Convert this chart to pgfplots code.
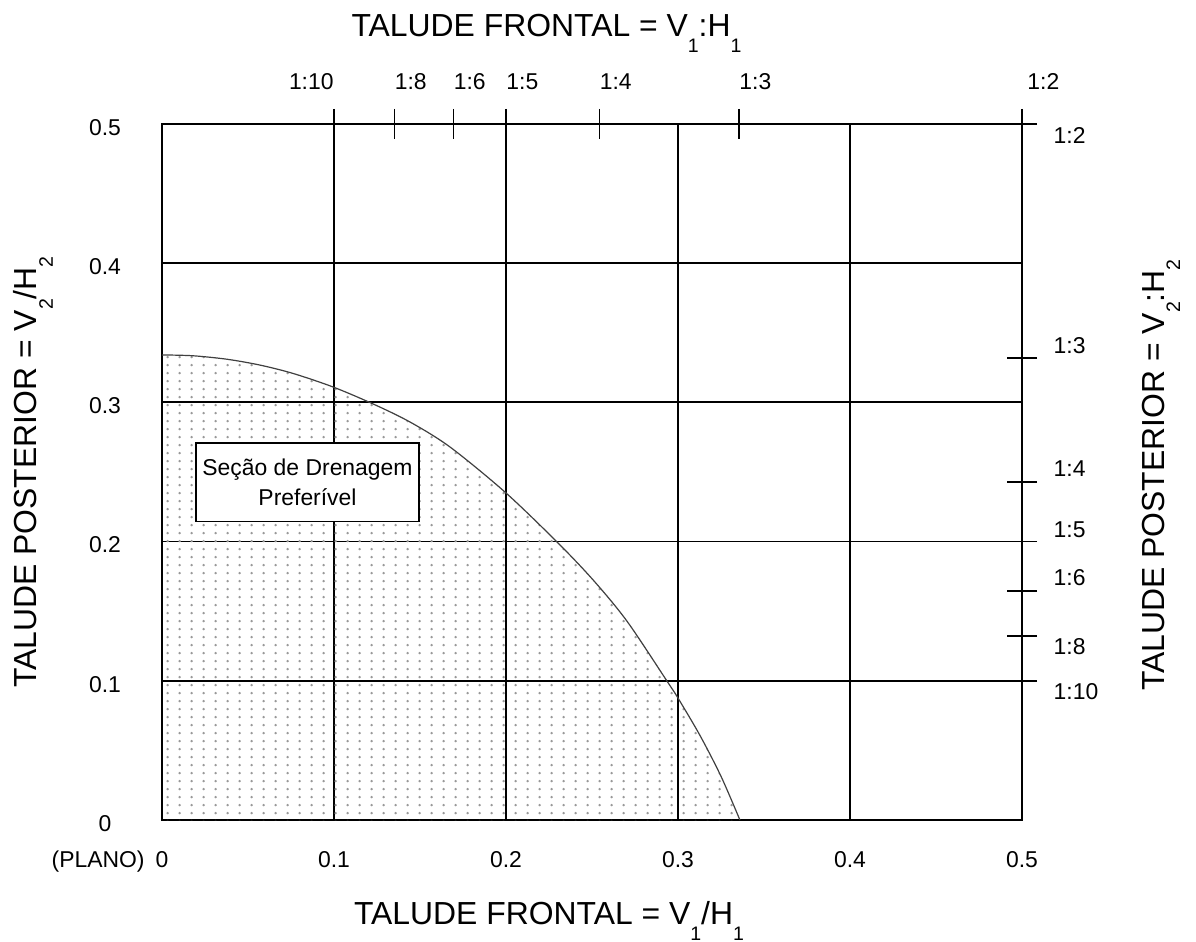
\documentclass[border=0pt]{standalone}
\usepackage{pgfplots}
\pgfplotsset{compat=1.18}
\usepackage{fontspec}
\setmainfont{Liberation Sans}
\usetikzlibrary{patterns}
\pgfdeclarepatternformonly{mydots}{\pgfqpoint{0bp}{0bp}}{\pgfqpoint{5.8bp}{4.2bp}}{\pgfqpoint{5.8bp}{4.2bp}}{\pgfpathcircle{\pgfqpoint{2.9bp}{2.1bp}}{0.7bp}\pgfusepath{fill}}
\newcommand\sub[1]{\raisebox{-8bp}{\fontsize{9.8}{10}\selectfont #1}}
\newcommand\lbl{\fontsize{11.5}{15}\selectfont}
\newcommand\ttl{\fontsize{16}{19}\selectfont}
\pgfplotstableread{
x y
0 0.3341
0.018 0.3335
0.0378 0.3310
0.057 0.3268
0.0762 0.3208
0.0994 0.3111
0.1227 0.2989
0.1442 0.2859
0.1674 0.2680
0.1994 0.2356
0.2297 0.1997
0.2506 0.1725
0.2703 0.1429
0.2936 0.0998
0.3000 0.0876
0.3128 0.0607
0.3250 0.0314
0.3360 0
}\curve
\begin{document}
\begin{tikzpicture}
\path (-81bp,-61bp) rectangle (517bp,410bp);
\begin{axis}[name=main, at={(0,0)}, anchor=south west, scale only axis,
  width=430bp, height=348bp, xmin=0, xmax=0.5, ymin=0, ymax=0.5,
  xtick={0,0.1,0.2,0.3,0.4,0.5}, ytick={0,0.1,0.2,0.3,0.4,0.5},
  xticklabels={0,0.1,0.2,0.3,0.4,0.5}, yticklabels={0,0.1,0.2,0.3,0.4,0.5},
  grid=major, grid style={black, line width=0.9bp},
  major tick length=0pt, axis line style={line width=0.9bp},
  tick label style={font=\lbl},
  /pgf/number format/assume math mode=true,
  xticklabel style={anchor=base, yshift=-23.5bp},
  yticklabel style={anchor=center, xshift=-28.5bp, yshift=-1.75bp},
  clip=false]
\addplot[draw=none, pattern=mydots, pattern color=black!40, smooth] table[x=x,y=y] {\curve} \closedcycle;
\addplot[black!75, line width=0.6bp, smooth] table[x=x,y=y] {\curve};
\node[draw, fill=white, line width=0.8bp, minimum width=111.5bp, minimum height=39.2bp,
  align=center, inner sep=0pt, font=\lbl] at (axis cs:0.0846,0.2425) {Seção de Drenagem\\Preferível};
% top labels
\node[anchor=base east, inner sep=0pt, font=\lbl, yshift=17.35bp] at (axis cs:0.1,0.5) {1:10};
\node[anchor=base west, inner sep=0pt, font=\lbl, yshift=17.35bp] at (axis cs:0.1351,0.5) {1:8};
\node[anchor=base west, inner sep=0pt, font=\lbl, yshift=17.35bp] at (axis cs:0.1694,0.5) {1:6};
\node[anchor=base west, inner sep=0pt, font=\lbl, yshift=17.35bp] at (axis cs:0.2,0.5) {1:5};
\node[anchor=base west, inner sep=0pt, font=\lbl, yshift=17.35bp] at (axis cs:0.2543,0.5) {1:4};
\node[anchor=base west, inner sep=0pt, font=\lbl, yshift=17.35bp] at (axis cs:0.3355,0.5) {1:3};
\node[anchor=base west, inner sep=0pt, font=\lbl, yshift=17.35bp, xshift=2.5bp] at (axis cs:0.5,0.5) {1:2};
% right labels
\node[anchor=west, inner sep=0pt, font=\lbl, xshift=15.65bp] at (axis cs:0.5,0.492) {1:2};
\node[anchor=west, inner sep=0pt, font=\lbl, xshift=15.65bp] at (axis cs:0.5,0.3405) {1:3};
\node[anchor=west, inner sep=0pt, font=\lbl, xshift=15.65bp] at (axis cs:0.5,0.2522) {1:4};
\node[anchor=west, inner sep=0pt, font=\lbl, xshift=15.65bp] at (axis cs:0.5,0.2088) {1:5};
\node[anchor=west, inner sep=0pt, font=\lbl, xshift=15.65bp] at (axis cs:0.5,0.1743) {1:6};
\node[anchor=west, inner sep=0pt, font=\lbl, xshift=15.65bp] at (axis cs:0.5,0.1245) {1:8};
\node[anchor=west, inner sep=0pt, font=\lbl, xshift=15.65bp] at (axis cs:0.5,0.0922) {1:10};
\node[anchor=base east, inner sep=0pt, font=\lbl, xshift=-8.5bp, yshift=-23.5bp] at (axis cs:0,0) {(PLANO)};
\end{axis}
\begin{axis}[at={(0,0)}, anchor=south west, scale only axis,
  width=430bp, height=348bp, xmin=0, xmax=0.5, ymin=0, ymax=0.5,
  axis line style={draw=none},
  xtick={0.1,0.1351,0.1694,0.2,0.2543,0.3355,0.5},
  ytick={0.1,0.132,0.1645,0.2,0.2426,0.3317,0.5},
  xticklabels={}, yticklabels={},
  xtick pos=right, ytick pos=right, tick align=center,
  major tick length=15bp, tick style={black, line width=0.8bp}]
\end{axis}
\node[anchor=base, font=\ttl, inner sep=0pt] at (192.25bp,391.5bp) {TALUDE FRONTAL = V\sub{1}:H\sub{1}};
\node[anchor=base, font=\ttl, inner sep=0pt] at (193.5bp,-52bp) {TALUDE FRONTAL = V\sub{1}/H\sub{1}};
\node[anchor=base, rotate=90, font=\ttl, inner sep=0pt] at (-62.5bp,174bp) {TALUDE POSTERIOR = V\sub{2}/H\sub{2}};
\node[anchor=base, rotate=90, font=\ttl, inner sep=0pt] at (501bp,172.5bp) {TALUDE POSTERIOR = V\sub{2}:H\sub{2}};
\end{tikzpicture}
\end{document}
